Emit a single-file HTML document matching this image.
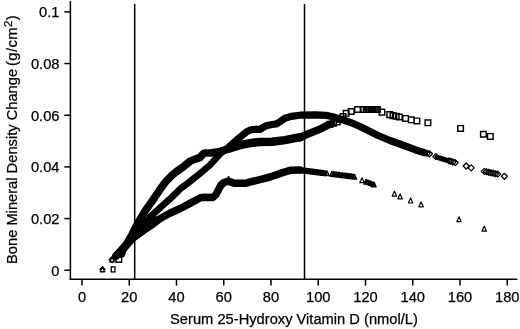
<!DOCTYPE html>
<html><head><meta charset="utf-8"><title>chart</title>
<style>
html,body{margin:0;padding:0;background:#fff;}
svg{display:block}
svg{will-change:transform}
text{font-family:"Liberation Sans",Arial,sans-serif;font-size:14.7px;fill:#000;stroke:#000;stroke-width:0.25px}
</style></head><body>
<svg width="520" height="329" viewBox="0 0 520 329">
<rect width="520" height="329" fill="#fff"/>
<g stroke="#000" stroke-width="1.5" fill="none">
<line x1="70.4" y1="1.3" x2="70.4" y2="280"/>
<line x1="69.65" y1="279.2" x2="517.4" y2="279.2" stroke-width="1.6"/>
<line x1="134.7" y1="4" x2="134.7" y2="279.2"/>
<line x1="304.5" y1="4" x2="304.5" y2="279.2"/>
<line x1="82.00" y1="279.2" x2="82.00" y2="285.6"/><line x1="129.25" y1="279.2" x2="129.25" y2="285.6"/><line x1="176.50" y1="279.2" x2="176.50" y2="285.6"/><line x1="223.75" y1="279.2" x2="223.75" y2="285.6"/><line x1="271.00" y1="279.2" x2="271.00" y2="285.6"/><line x1="318.25" y1="279.2" x2="318.25" y2="285.6"/><line x1="365.50" y1="279.2" x2="365.50" y2="285.6"/><line x1="412.75" y1="279.2" x2="412.75" y2="285.6"/><line x1="460.00" y1="279.2" x2="460.00" y2="285.6"/><line x1="507.25" y1="279.2" x2="507.25" y2="285.6"/><line x1="64.3" y1="270.20" x2="70.4" y2="270.20"/><line x1="64.3" y1="218.54" x2="70.4" y2="218.54"/><line x1="64.3" y1="166.88" x2="70.4" y2="166.88"/><line x1="64.3" y1="115.22" x2="70.4" y2="115.22"/><line x1="64.3" y1="63.56" x2="70.4" y2="63.56"/><line x1="64.3" y1="11.90" x2="70.4" y2="11.90"/>
</g>
<g stroke="#000" fill="none" stroke-linejoin="round" stroke-linecap="round">
<path d="M140.0 231.0L148.0 224.0L155.0 218.5" stroke-width="5.0"/><path d="M116.0 256.0L119.0 253.5L124.0 248.0L129.0 242.5L132.5 238.5L138.0 234.5L143.5 230.5L151.0 225.5L160.2 218.5L170.3 213.0L180.3 208.5L190.4 203.1L200.4 197.7L204.0 197.2L213.0 197.4L216.0 194.5L221.0 185.0L224.0 182.5L228.0 181.2L235.0 183.3L245.0 183.3L252.0 181.5L260.0 179.6L270.0 177.0L282.5 172.6L291.0 170.2L300.0 170.1" stroke-width="7.5"/><path d="M300.0 170.1L312.0 171.6L324.5 173.2" stroke-width="6.2"/><path d="M367.5 182.3L372.5 184.3" stroke-width="5.6"/><path d="M121.5 254.0L122.5 250.5L126.0 245.0L131.4 236.0L135.8 227.0L139.5 220.5L145.5 210.5L152.2 201.1L160.2 189.1L166.3 181.0L172.3 175.0L177.3 171.0L184.0 166.3L190.0 161.2L196.0 158.8L200.0 157.5L203.0 154.0L205.0 153.0L212.0 152.8L220.0 151.5L230.0 148.5" stroke-width="7.7"/><path d="M230.0 148.3L240.0 145.1L250.0 143.1L260.0 141.9L272.0 141.7L285.0 140.1L296.0 137.9L300.0 137.2" stroke-width="8.5"/><path d="M300.0 137.4L308.5 133.8L321.0 128.7L327.2 125.4L331.0 124.0" stroke-width="7.7"/><path d="M115.5 255.5L117.5 253.0L123.0 247.0L130.0 239.5L136.0 232.5L141.0 227.0L150.5 216.5" stroke-width="6.0"/><path d="M150.5 216.5L161.5 206.5L171.0 198.0L180.3 188.8L190.4 181.2L200.4 173.2L210.0 165.0L220.0 154.0L230.0 146.0" stroke-width="6.7"/><path d="M230.0 146.0L240.0 137.2L247.0 131.5L251.0 129.8L256.0 129.2L260.0 129.5L263.0 127.5L266.0 125.8L272.0 124.5L276.0 124.0L279.0 122.4L285.0 118.2L291.0 116.4L300.0 115.2L316.0 114.8L326.0 115.3L333.5 117.0L339.8 119.0L346.0 121.0L352.5 123.2L361.0 127.0L365.0 129.0L377.5 135.2L390.0 140.5L402.5 145.0L415.0 149.7L424.5 152.7" stroke-width="7.2"/><path d="M437.0 157.2L447.5 160.4" stroke-width="5.2"/>
</g>
<g stroke="#000" fill="none" stroke-linejoin="round">
<path stroke-width="1.2" d="M112.0 257.1l2.2 4.9h-4.4zM228.5 176.5l2.2 4.9h-4.4zM322.5 170.3l2.2 4.9h-4.4zM327.0 170.8l2.2 4.9h-4.4zM332.0 171.3l2.2 4.9h-4.4zM333.5 171.5l2.2 4.9h-4.4zM335.0 171.7l2.2 4.9h-4.4zM336.5 171.9l2.2 4.9h-4.4zM338.0 172.1l2.2 4.9h-4.4zM339.5 172.3l2.2 4.9h-4.4zM341.0 172.5l2.2 4.9h-4.4zM342.5 172.7l2.2 4.9h-4.4zM344.0 172.9l2.2 4.9h-4.4zM345.5 173.1l2.2 4.9h-4.4zM347.0 173.2l2.2 4.9h-4.4zM348.5 173.4l2.2 4.9h-4.4zM350.0 173.6l2.2 4.9h-4.4zM351.5 173.8l2.2 4.9h-4.4zM353.0 174.0l2.2 4.9h-4.4zM354.5 174.2l2.2 4.9h-4.4zM362.0 177.8l2.2 4.9h-4.4zM366.0 179.3l2.2 4.9h-4.4zM374.0 182.0l2.2 4.9h-4.4zM394.4 191.2l2.2 4.9h-4.4zM400.1 193.9l2.2 4.9h-4.4zM410.6 198.1l2.2 4.9h-4.4zM421.1 201.9l2.2 4.9h-4.4zM459.0 216.8l2.2 4.9h-4.4zM484.2 226.3l2.2 4.9h-4.4z"/>
<path stroke-width="1.45" stroke-linejoin="miter" d="M116.0 256.6h5.6v5.6h-5.6zM327.2 121.5h5.6v5.6h-5.6zM330.7 120.5h5.6v5.6h-5.6zM334.4 119.1h5.6v5.6h-5.6zM337.2 116.7h5.6v5.6h-5.6zM340.2 113.7h5.6v5.6h-5.6zM343.4 110.5h5.6v5.6h-5.6zM348.4 108.7h5.6v5.6h-5.6zM354.7 106.7h5.6v5.6h-5.6zM360.9 106.7h5.6v5.6h-5.6zM363.4 106.6h5.6v5.6h-5.6zM365.0 106.6h5.6v5.6h-5.6zM366.6 106.6h5.6v5.6h-5.6zM368.2 106.6h5.6v5.6h-5.6zM369.8 106.6h5.6v5.6h-5.6zM371.4 106.6h5.6v5.6h-5.6zM373.0 106.6h5.6v5.6h-5.6zM374.6 106.6h5.6v5.6h-5.6zM379.1 109.3h5.6v5.6h-5.6zM386.9 111.8h5.6v5.6h-5.6zM390.2 112.8h5.6v5.6h-5.6zM393.4 113.5h5.6v5.6h-5.6zM396.6 114.2h5.6v5.6h-5.6zM402.8 115.6h5.6v5.6h-5.6zM408.4 117.0h5.6v5.6h-5.6zM414.1 118.1h5.6v5.6h-5.6zM425.1 120.0h5.6v5.6h-5.6zM457.8 125.6h5.6v5.6h-5.6zM480.6 131.4h5.6v5.6h-5.6zM487.5 133.6h5.6v5.6h-5.6z"/>
<path stroke-width="1.25" d="M112.0 256.6l3.0 3.0l-3.0 3.0l-3.0 -3.0zM427.0 150.2l3.0 3.0l-3.0 3.0l-3.0 -3.0zM429.4 150.8l3.0 3.0l-3.0 3.0l-3.0 -3.0zM435.8 153.6l3.0 3.0l-3.0 3.0l-3.0 -3.0zM449.0 157.9l3.0 3.0l-3.0 3.0l-3.0 -3.0zM450.8 158.3l3.0 3.0l-3.0 3.0l-3.0 -3.0zM453.0 159.0l3.0 3.0l-3.0 3.0l-3.0 -3.0zM455.3 159.6l3.0 3.0l-3.0 3.0l-3.0 -3.0zM466.2 163.0l3.0 3.0l-3.0 3.0l-3.0 -3.0zM471.2 164.9l3.0 3.0l-3.0 3.0l-3.0 -3.0zM484.2 168.4l3.0 3.0l-3.0 3.0l-3.0 -3.0zM486.4 168.8l3.0 3.0l-3.0 3.0l-3.0 -3.0zM488.7 169.3l3.0 3.0l-3.0 3.0l-3.0 -3.0zM490.9 169.8l3.0 3.0l-3.0 3.0l-3.0 -3.0zM493.2 170.2l3.0 3.0l-3.0 3.0l-3.0 -3.0zM495.4 170.7l3.0 3.0l-3.0 3.0l-3.0 -3.0zM497.7 171.1l3.0 3.0l-3.0 3.0l-3.0 -3.0zM504.4 173.3l3.0 3.0l-3.0 3.0l-3.0 -3.0z"/>
</g>
<g stroke="#000" fill="none" stroke-linejoin="round">
<rect x="111.25" y="266.85" width="3.7" height="5.1" stroke-width="1.3" stroke-linejoin="miter"/>
<path stroke-width="1.2" d="M102.5 266.7l2.6 2.7l-2.6 2.7l-2.6 -2.7zM102.5 266.9l2.3 4.9h-4.6z"/>
</g>
<g><text x="82.00" y="301.8" text-anchor="middle">0</text><text x="129.25" y="301.8" text-anchor="middle">20</text><text x="176.50" y="301.8" text-anchor="middle">40</text><text x="223.75" y="301.8" text-anchor="middle">60</text><text x="271.00" y="301.8" text-anchor="middle">80</text><text x="318.25" y="301.8" text-anchor="middle">100</text><text x="365.50" y="301.8" text-anchor="middle">120</text><text x="412.75" y="301.8" text-anchor="middle">140</text><text x="460.00" y="301.8" text-anchor="middle">160</text><text x="507.25" y="301.8" text-anchor="middle">180</text><text x="59.5" y="275.70" text-anchor="end">0</text><text x="59.5" y="224.04" text-anchor="end">0.02</text><text x="59.5" y="172.38" text-anchor="end">0.04</text><text x="59.5" y="120.72" text-anchor="end">0.06</text><text x="59.5" y="69.06" text-anchor="end">0.08</text><text x="59.5" y="17.40" text-anchor="end">0.1</text></g>
<text x="294" y="324.3" text-anchor="middle">Serum 25-Hydroxy Vitamin D (nmol/L)</text>
<text transform="translate(17.2,264) rotate(-90)">Bone Mineral Density Change</text>
<text transform="translate(17.2,66) rotate(-90)" letter-spacing="0.45">(g/cm<tspan dy="-5.2" font-size="11.5px">2</tspan><tspan dy="5.2">)</tspan></text>
</svg>
</body></html>
